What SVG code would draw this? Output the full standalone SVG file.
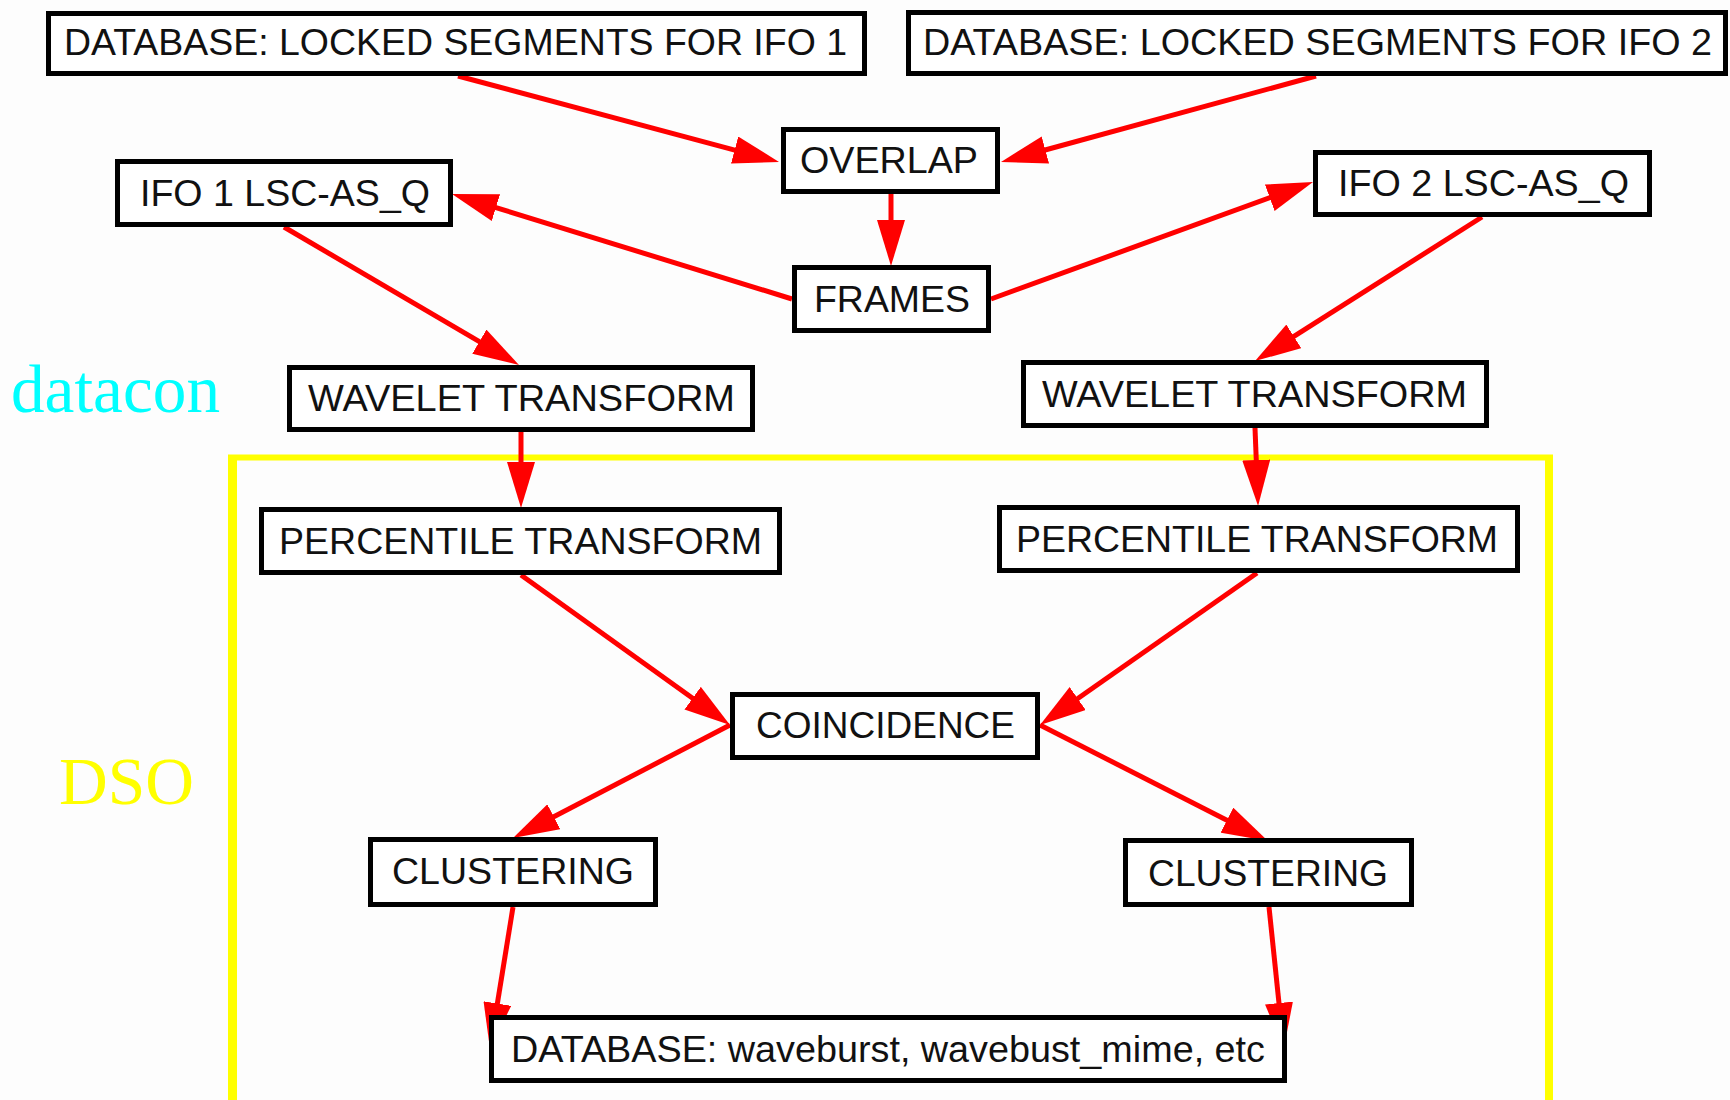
<svg xmlns="http://www.w3.org/2000/svg" width="1730" height="1100" viewBox="0 0 1730 1100">
<style>
.bg{fill:#fdfdfd}
.node rect{fill:#ffffff;stroke:#000;stroke-width:5}
.node text{font-family:"Liberation Sans",Arial,sans-serif;font-size:36px;fill:#111;text-anchor:middle}
.edge{stroke:#ff0000;stroke-width:5;fill:none;marker-end:url(#arrow)}
.lbl{font-family:"Liberation Serif","Times New Roman",serif}
</style>
<defs>
<marker id="arrow" markerUnits="userSpaceOnUse" markerWidth="46" markerHeight="28" viewBox="0 0 46 28" refX="6" refY="14" orient="auto">
<path d="M0,0 L46,14 L0,28 Z" fill="#ff0000"/>
</marker>
</defs>
<rect class="bg" x="0" y="0" width="1730" height="1100"/>
<g id="cluster-dso">
<line x1="232.5" y1="455" x2="232.5" y2="1100" stroke="#ffff00" stroke-width="9"/>
<line x1="228" y1="457.5" x2="1553" y2="457.5" stroke="#ffff00" stroke-width="6"/>
<line x1="1549" y1="455" x2="1549" y2="1100" stroke="#ffff00" stroke-width="8"/>
</g>
<text class="lbl" x="11" y="412" font-size="67" fill="#00ffff" textLength="209" lengthAdjust="spacingAndGlyphs">datacon</text>
<text class="lbl" x="59" y="804" font-size="68" fill="#ffff00" textLength="135" lengthAdjust="spacingAndGlyphs">DSO</text>
<g id="edges">
<path class="edge" d="M458,76 L740.4,151.6"/>
<path class="edge" d="M1316,76 L1039.6,151.5"/>
<path class="edge" d="M891,194 L891,226"/>
<path class="edge" d="M792,299 L490.2,205.8"/>
<path class="edge" d="M991,299 L1275.4,195.7"/>
<path class="edge" d="M284,227 L484.5,344.7"/>
<path class="edge" d="M1482,217 L1288.8,339.6"/>
<path class="edge" d="M521,431 L521,468"/>
<path class="edge" d="M1255,428 L1256.5,466"/>
<path class="edge" d="M521,575 L697.5,701.7"/>
<path class="edge" d="M1257,573 L1072.8,702"/>
<path class="edge" d="M730,725 L548.5,819.5"/>
<path class="edge" d="M1040,725 L1232.3,822.9"/>
<path class="edge" d="M513,907 L496.4,1009.5"/>
<path class="edge" d="M1269,907 L1279.6,1009"/>
</g>
<g id="db-ifo1" class="node"><rect x="48.5" y="13.5" width="816" height="60"/><text x="455.5" y="55" textLength="783" lengthAdjust="spacingAndGlyphs">DATABASE: LOCKED SEGMENTS FOR IFO 1</text></g>
<g id="db-ifo2" class="node"><rect x="908.5" y="12.5" width="817" height="61"/><text x="1317.5" y="55" textLength="789" lengthAdjust="spacingAndGlyphs">DATABASE: LOCKED SEGMENTS FOR IFO 2</text></g>
<g id="overlap" class="node"><rect x="783.5" y="129.5" width="214" height="62"/><text x="889" y="173" textLength="178" lengthAdjust="spacingAndGlyphs">OVERLAP</text></g>
<g id="ifo1" class="node"><rect x="117.5" y="161.5" width="333" height="63"/><text x="285" y="206" textLength="290" lengthAdjust="spacingAndGlyphs">IFO 1 LSC-AS_Q</text></g>
<g id="ifo2" class="node"><rect x="1315.5" y="152.5" width="334" height="62"/><text x="1483.5" y="196" textLength="291" lengthAdjust="spacingAndGlyphs">IFO 2 LSC-AS_Q</text></g>
<g id="frames" class="node"><rect x="794.5" y="267.5" width="194" height="63"/><text x="892" y="312" textLength="156" lengthAdjust="spacingAndGlyphs">FRAMES</text></g>
<g id="wavelet1" class="node"><rect x="289.5" y="367.5" width="463" height="62"/><text x="521.5" y="411" textLength="427" lengthAdjust="spacingAndGlyphs">WAVELET TRANSFORM</text></g>
<g id="wavelet2" class="node"><rect x="1023.5" y="362.5" width="463" height="63"/><text x="1254.5" y="407" textLength="425" lengthAdjust="spacingAndGlyphs">WAVELET TRANSFORM</text></g>
<g id="percentile1" class="node"><rect x="261.5" y="509.5" width="518" height="63"/><text x="520.5" y="554" textLength="483" lengthAdjust="spacingAndGlyphs">PERCENTILE TRANSFORM</text></g>
<g id="percentile2" class="node"><rect x="999.5" y="507.5" width="518" height="63"/><text x="1257" y="552" textLength="482" lengthAdjust="spacingAndGlyphs">PERCENTILE TRANSFORM</text></g>
<g id="coincidence" class="node"><rect x="732.5" y="694.5" width="305" height="63"/><text x="885.5" y="738" textLength="259" lengthAdjust="spacingAndGlyphs">COINCIDENCE</text></g>
<g id="clustering1" class="node"><rect x="370.5" y="839.5" width="285" height="65"/><text x="513" y="884" textLength="242" lengthAdjust="spacingAndGlyphs">CLUSTERING</text></g>
<g id="clustering2" class="node"><rect x="1125.5" y="840.5" width="286" height="64"/><text x="1268" y="886" textLength="240" lengthAdjust="spacingAndGlyphs">CLUSTERING</text></g>
<g id="db-waveburst" class="node"><rect x="491.5" y="1017.5" width="793" height="63"/><text x="888" y="1062" textLength="754" lengthAdjust="spacingAndGlyphs">DATABASE: waveburst, wavebust_mime, etc</text></g>
</svg>
